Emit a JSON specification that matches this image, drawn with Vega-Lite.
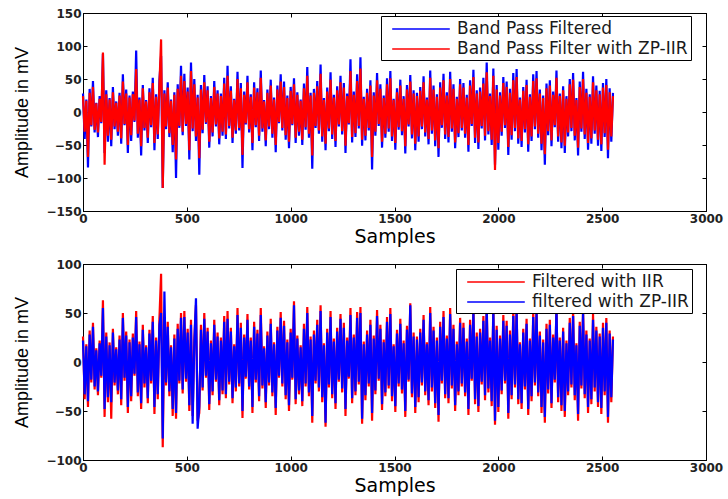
{
"$schema": "https://vega.github.io/schema/vega-lite/v6.json",
"padding": {"left": 13, "top": 6, "right": 5, "bottom": 0},
"background": "white",
"config": {
 "view": {"stroke": "black", "strokeWidth": 1},
 "axis": {"grid": false, "domainColor": "black", "domainWidth": 1, "tickColor": "black", "tickSize": -4, "tickWidth": 1, "labelFont": "DejaVu Sans", "labelFontWeight": "bold", "labelFontSize": 12, "labelColor": "#222222", "titleFont": "DejaVu Sans", "titleFontWeight": "normal", "titleFontSize": 19, "titleColor": "#000000", "labelFlush": false, "labelOverlap": false, "format": "d"},
 "axisY": {"titleFont": "Liberation Sans", "titleFontSize": 18}
},
"data": {"values": [
{"x":0,"a":28,"b":24,"c":26,"d":22},{"x":8,"a":-41,"b":-30,"c":-38,"d":-33},{"x":16,"a":19,"b":17,"c":18,"d":16},{"x":24,"a":-84,"b":-68,"c":-46,"d":-40},{"x":32,"a":35,"b":29,"c":32,"d":28},{"x":40,"a":-22,"b":-20,"c":-21,"d":-18},{"x":48,"a":47,"b":38,"c":40,"d":36},{"x":56,"a":-31,"b":-27,"c":-28,"d":-25},{"x":64,"a":14,"b":13,"c":14,"d":12},{"x":72,"a":-38,"b":-31,"c":-34,"d":-30},
{"x":80,"a":24,"b":20,"c":22,"d":19},{"x":88,"a":-17,"b":-15,"c":-16,"d":-14},{"x":96,"a":88,"b":90,"c":63,"d":55},{"x":104,"a":-62,"b":-80,"c":-56,"d":-48},{"x":112,"a":33,"b":27,"c":30,"d":26},{"x":120,"a":-45,"b":-36,"c":-41,"d":-36},{"x":128,"a":21,"b":19,"c":20,"d":17},{"x":136,"a":-52,"b":-42,"c":-58,"d":-41},{"x":144,"a":38,"b":30,"c":34,"d":30},{"x":152,"a":-26,"b":-22,"c":-24,"d":-21},
{"x":160,"a":16,"b":14,"c":15,"d":13},{"x":168,"a":-36,"b":-30,"c":-33,"d":-29},{"x":176,"a":29,"b":25,"c":27,"d":23},{"x":184,"a":-48,"b":-40,"c":-44,"d":-38},{"x":192,"a":57,"b":46,"c":50,"d":45},{"x":200,"a":-20,"b":-18,"c":-19,"d":-16},{"x":208,"a":34,"b":28,"c":31,"d":27},{"x":216,"a":-62,"b":-50,"c":-52,"d":-46},{"x":224,"a":25,"b":22,"c":23,"d":20},{"x":232,"a":-44,"b":-35,"c":-40,"d":-35},
{"x":240,"a":31,"b":27,"c":29,"d":25},{"x":248,"a":-15,"b":-13,"c":-14,"d":-12},{"x":256,"a":93,"b":65,"c":52,"d":46},{"x":264,"a":-39,"b":-33,"c":-35,"d":-31},{"x":272,"a":22,"b":19,"c":21,"d":18},{"x":280,"a":-66,"b":-52,"c":-48,"d":-42},{"x":288,"a":41,"b":36,"c":38,"d":33},{"x":296,"a":-28,"b":-24,"c":-26,"d":-22},{"x":304,"a":18,"b":16,"c":17,"d":15},{"x":312,"a":-47,"b":-39,"c":-42,"d":-37},
{"x":320,"a":36,"b":30,"c":33,"d":29},{"x":328,"a":-23,"b":-20,"c":-22,"d":-19},{"x":336,"a":52,"b":44,"c":47,"d":41},{"x":344,"a":-58,"b":-47,"c":-53,"d":-46},{"x":352,"a":27,"b":23,"c":25,"d":22},{"x":360,"a":-41,"b":-34,"c":-38,"d":-33},{"x":368,"a":48,"b":40,"c":44,"d":38},{"x":376,"a":85,"b":110,"c":90,"d":50},{"x":384,"a":-115,"b":-115,"c":-87,"d":-78},{"x":392,"a":33,"b":28,"c":40,"d":72},
{"x":400,"a":-26,"b":-22,"c":-24,"d":-21},{"x":408,"a":45,"b":37,"c":41,"d":36},{"x":416,"a":-38,"b":-32,"c":-35,"d":-30},{"x":424,"a":19,"b":17,"c":17,"d":15},{"x":432,"a":-61,"b":-50,"c":-55,"d":-48},{"x":440,"a":30,"b":26,"c":28,"d":24},{"x":448,"a":-100,"b":-72,"c":-58,"d":-52},{"x":456,"a":42,"b":35,"c":39,"d":34},{"x":464,"a":-24,"b":-21,"c":-22,"d":-19},{"x":472,"a":70,"b":55,"c":50,"d":45},
{"x":480,"a":-35,"b":-30,"c":-32,"d":-28},{"x":488,"a":58,"b":47,"c":52,"d":46},{"x":496,"a":-21,"b":-18,"c":-20,"d":-17},{"x":504,"a":37,"b":31,"c":34,"d":30},{"x":512,"a":-72,"b":-58,"c":-50,"d":-44},{"x":520,"a":75,"b":62,"c":43,"d":38},{"x":528,"a":-29,"b":-25,"c":-55,"d":-63},{"x":536,"a":50,"b":42,"c":23,"d":20},{"x":544,"a":-44,"b":-37,"c":58,"d":65},{"x":552,"a":26,"b":22,"c":-60,"d":-68},
{"x":560,"a":-95,"b":-70,"c":-52,"d":-45},{"x":568,"a":41,"b":34,"c":38,"d":33},{"x":576,"a":-32,"b":-27,"c":-29,"d":-26},{"x":584,"a":56,"b":45,"c":50,"d":44},{"x":592,"a":-18,"b":-16,"c":-16,"d":-14},{"x":600,"a":39,"b":33,"c":35,"d":31},{"x":608,"a":-54,"b":-45,"c":-49,"d":-43},{"x":616,"a":24,"b":21,"c":22,"d":19},{"x":624,"a":-37,"b":-31,"c":-34,"d":-30},{"x":632,"a":47,"b":38,"c":43,"d":38},
{"x":640,"a":-22,"b":-19,"c":-20,"d":-18},{"x":648,"a":33,"b":28,"c":30,"d":26},{"x":656,"a":-49,"b":-40,"c":-44,"d":-39},{"x":664,"a":28,"b":24,"c":25,"d":22},{"x":672,"a":-36,"b":-30,"c":-33,"d":-29},{"x":680,"a":52,"b":43,"c":47,"d":41},{"x":688,"a":-41,"b":-34,"c":-37,"d":-33},{"x":696,"a":70,"b":55,"c":52,"d":44},{"x":704,"a":-25,"b":-21,"c":-23,"d":-20},{"x":712,"a":39,"b":32,"c":35,"d":31},
{"x":720,"a":-47,"b":-39,"c":-42,"d":-37},{"x":728,"a":20,"b":18,"c":18,"d":16},{"x":736,"a":-33,"b":-28,"c":-30,"d":-26},{"x":744,"a":61,"b":50,"c":55,"d":48},{"x":752,"a":-28,"b":-24,"c":-25,"d":-22},{"x":760,"a":44,"b":36,"c":40,"d":35},{"x":768,"a":-85,"b":-65,"c":-57,"d":-50},{"x":776,"a":31,"b":26,"c":28,"d":25},{"x":784,"a":-19,"b":-17,"c":-17,"d":-15},{"x":792,"a":55,"b":45,"c":49,"d":43},
{"x":800,"a":-31,"b":-26,"c":-28,"d":-25},{"x":808,"a":27,"b":23,"c":25,"d":22},{"x":816,"a":-58,"b":-47,"c":-52,"d":-46},{"x":824,"a":45,"b":37,"c":41,"d":36},{"x":832,"a":-23,"b":-20,"c":-21,"d":-18},{"x":840,"a":36,"b":30,"c":33,"d":29},{"x":848,"a":-44,"b":-36,"c":-40,"d":-35},{"x":856,"a":63,"b":52,"c":55,"d":48},{"x":864,"a":-30,"b":-25,"c":-27,"d":-24},{"x":872,"a":18,"b":16,"c":16,"d":14},
{"x":880,"a":-52,"b":-43,"c":-47,"d":-41},{"x":888,"a":34,"b":29,"c":31,"d":27},{"x":896,"a":-26,"b":-22,"c":-24,"d":-21},{"x":904,"a":49,"b":40,"c":44,"d":39},{"x":912,"a":-39,"b":-33,"c":-35,"d":-31},{"x":920,"a":22,"b":19,"c":20,"d":18},{"x":928,"a":-61,"b":-50,"c":-54,"d":-47},{"x":936,"a":40,"b":34,"c":36,"d":32},{"x":944,"a":-17,"b":-15,"c":-16,"d":-14},{"x":952,"a":57,"b":46,"c":51,"d":45},
{"x":960,"a":-28,"b":-24,"c":-25,"d":-22},{"x":968,"a":46,"b":38,"c":42,"d":37},{"x":976,"a":-42,"b":-35,"c":-38,"d":-34},{"x":984,"a":25,"b":21,"c":23,"d":20},{"x":992,"a":-55,"b":-45,"c":-50,"d":-44},{"x":1000,"a":38,"b":32,"c":34,"d":30},{"x":1008,"a":-20,"b":-18,"c":-18,"d":-16},{"x":1016,"a":51,"b":42,"c":62,"d":58},{"x":1024,"a":-47,"b":-39,"c":-43,"d":-38},{"x":1032,"a":30,"b":26,"c":27,"d":24},
{"x":1040,"a":-36,"b":-30,"c":-33,"d":-29},{"x":1048,"a":19,"b":17,"c":17,"d":15},{"x":1056,"a":-50,"b":-42,"c":-45,"d":-40},{"x":1064,"a":43,"b":36,"c":39,"d":34},{"x":1072,"a":-27,"b":-23,"c":-25,"d":-22},{"x":1080,"a":68,"b":55,"c":56,"d":50},{"x":1088,"a":-39,"b":-33,"c":-35,"d":-31},{"x":1096,"a":29,"b":25,"c":26,"d":23},{"x":1104,"a":-86,"b":-66,"c":-62,"d":-55},{"x":1112,"a":35,"b":29,"c":32,"d":28},
{"x":1120,"a":-24,"b":-21,"c":-22,"d":-19},{"x":1128,"a":47,"b":39,"c":43,"d":38},{"x":1136,"a":-33,"b":-28,"c":-30,"d":-26},{"x":1144,"a":72,"b":58,"c":58,"d":52},{"x":1152,"a":-45,"b":-37,"c":-41,"d":-36},{"x":1160,"a":21,"b":18,"c":19,"d":17},{"x":1168,"a":-58,"b":-48,"c":-66,"d":-62},{"x":1176,"a":37,"b":31,"c":34,"d":30},{"x":1184,"a":-29,"b":-25,"c":-26,"d":-23},{"x":1192,"a":60,"b":49,"c":52,"d":46},
{"x":1200,"a":-41,"b":-34,"c":-37,"d":-33},{"x":1208,"a":26,"b":22,"c":24,"d":21},{"x":1216,"a":-53,"b":-44,"c":-48,"d":-42},{"x":1224,"a":39,"b":33,"c":35,"d":31},{"x":1232,"a":-22,"b":-19,"c":-20,"d":-18},{"x":1240,"a":55,"b":45,"c":49,"d":44},{"x":1248,"a":-34,"b":-29,"c":-31,"d":-27},{"x":1256,"a":44,"b":37,"c":40,"d":35},{"x":1264,"a":-62,"b":-51,"c":-55,"d":-48},{"x":1272,"a":28,"b":24,"c":25,"d":22},
{"x":1280,"a":-19,"b":-17,"c":-17,"d":-15},{"x":1288,"a":80,"b":62,"c":55,"d":48},{"x":1296,"a":-46,"b":-38,"c":-42,"d":-37},{"x":1304,"a":31,"b":26,"c":28,"d":25},{"x":1312,"a":-38,"b":-32,"c":-34,"d":-30},{"x":1320,"a":57,"b":47,"c":51,"d":45},{"x":1328,"a":-25,"b":-21,"c":-23,"d":-20},{"x":1336,"a":83,"b":66,"c":56,"d":50},{"x":1344,"a":-51,"b":-42,"c":-63,"d":-58},{"x":1352,"a":23,"b":20,"c":21,"d":18},
{"x":1360,"a":-43,"b":-36,"c":-39,"d":-34},{"x":1368,"a":35,"b":29,"c":32,"d":28},{"x":1376,"a":-28,"b":-24,"c":-25,"d":-22},{"x":1384,"a":48,"b":40,"c":43,"d":38},{"x":1392,"a":-87,"b":-68,"c":-60,"d":-52},{"x":1400,"a":30,"b":25,"c":27,"d":24},{"x":1408,"a":-36,"b":-30,"c":-33,"d":-29},{"x":1416,"a":59,"b":48,"c":53,"d":47},{"x":1424,"a":-21,"b":-18,"c":-19,"d":-17},{"x":1432,"a":42,"b":35,"c":38,"d":34},
{"x":1440,"a":-54,"b":-45,"c":-49,"d":-43},{"x":1448,"a":25,"b":21,"c":23,"d":20},{"x":1456,"a":-39,"b":-33,"c":-35,"d":-31},{"x":1464,"a":51,"b":42,"c":46,"d":41},{"x":1472,"a":-30,"b":-25,"c":-27,"d":-24},{"x":1480,"a":62,"b":51,"c":55,"d":49},{"x":1488,"a":-44,"b":-37,"c":-40,"d":-35},{"x":1496,"a":20,"b":18,"c":18,"d":16},{"x":1504,"a":-57,"b":-47,"c":-51,"d":-45},{"x":1512,"a":36,"b":30,"c":33,"d":29},
{"x":1520,"a":-27,"b":-23,"c":-25,"d":-22},{"x":1528,"a":49,"b":40,"c":44,"d":39},{"x":1536,"a":-35,"b":-29,"c":-32,"d":-28},{"x":1544,"a":24,"b":20,"c":22,"d":19},{"x":1552,"a":-63,"b":-52,"c":-56,"d":-50},{"x":1560,"a":41,"b":34,"c":37,"d":33},{"x":1568,"a":-22,"b":-19,"c":-20,"d":-18},{"x":1576,"a":56,"b":46,"c":60,"d":58},{"x":1584,"a":-40,"b":-34,"c":-36,"d":-32},{"x":1592,"a":33,"b":28,"c":30,"d":26},
{"x":1600,"a":-58,"b":-48,"c":-52,"d":-46},{"x":1608,"a":29,"b":24,"c":26,"d":23},{"x":1616,"a":-45,"b":-37,"c":-41,"d":-36},{"x":1624,"a":38,"b":32,"c":34,"d":30},{"x":1632,"a":-26,"b":-22,"c":-24,"d":-21},{"x":1640,"a":54,"b":45,"c":48,"d":43},{"x":1648,"a":-37,"b":-31,"c":-34,"d":-30},{"x":1656,"a":22,"b":19,"c":20,"d":18},{"x":1664,"a":-49,"b":-41,"c":-44,"d":-39},{"x":1672,"a":63,"b":52,"c":56,"d":50},
{"x":1680,"a":-33,"b":-28,"c":-30,"d":-26},{"x":1688,"a":40,"b":34,"c":36,"d":32},{"x":1696,"a":-52,"b":-43,"c":-47,"d":-42},{"x":1704,"a":27,"b":23,"c":25,"d":22},{"x":1712,"a":-68,"b":-55,"c":-61,"d":-54},{"x":1720,"a":45,"b":37,"c":41,"d":36},{"x":1728,"a":-24,"b":-20,"c":-22,"d":-19},{"x":1736,"a":58,"b":48,"c":52,"d":46},{"x":1744,"a":-41,"b":-34,"c":-37,"d":-33},{"x":1752,"a":30,"b":25,"c":27,"d":24},
{"x":1760,"a":-46,"b":-38,"c":-42,"d":-37},{"x":1768,"a":61,"b":50,"c":55,"d":49},{"x":1776,"a":-30,"b":-25,"c":-27,"d":-24},{"x":1784,"a":42,"b":35,"c":38,"d":34},{"x":1792,"a":-55,"b":-46,"c":-50,"d":-44},{"x":1800,"a":23,"b":20,"c":21,"d":18},{"x":1808,"a":-38,"b":-32,"c":-34,"d":-30},{"x":1816,"a":50,"b":42,"c":45,"d":40},{"x":1824,"a":-28,"b":-24,"c":-25,"d":-22},{"x":1832,"a":44,"b":37,"c":40,"d":35},
{"x":1840,"a":-39,"b":-33,"c":-35,"d":-31},{"x":1848,"a":26,"b":22,"c":24,"d":21},{"x":1856,"a":-60,"b":-50,"c":-54,"d":-48},{"x":1864,"a":48,"b":40,"c":43,"d":38},{"x":1872,"a":-21,"b":-18,"c":-19,"d":-17},{"x":1880,"a":64,"b":53,"c":57,"d":51},{"x":1888,"a":-47,"b":-39,"c":-43,"d":-38},{"x":1896,"a":33,"b":28,"c":30,"d":26},{"x":1904,"a":-56,"b":-46,"c":-51,"d":-45},{"x":1912,"a":37,"b":31,"c":34,"d":30},
{"x":1920,"a":-25,"b":-21,"c":-23,"d":-20},{"x":1928,"a":52,"b":43,"c":47,"d":42},{"x":1936,"a":-43,"b":-36,"c":-39,"d":-34},{"x":1944,"a":75,"b":60,"c":60,"d":55},{"x":1952,"a":-34,"b":-29,"c":-31,"d":-27},{"x":1960,"a":28,"b":24,"c":25,"d":22},{"x":1968,"a":-50,"b":-42,"c":-45,"d":-40},{"x":1976,"a":66,"b":55,"c":58,"d":53},{"x":1984,"a":-80,"b":-88,"c":-64,"d":-60},{"x":1992,"a":41,"b":34,"c":37,"d":33},
{"x":2000,"a":-57,"b":-47,"c":-51,"d":-46},{"x":2008,"a":30,"b":25,"c":27,"d":24},{"x":2016,"a":-36,"b":-30,"c":-33,"d":-29},{"x":2024,"a":53,"b":44,"c":48,"d":42},{"x":2032,"a":-24,"b":-20,"c":-22,"d":-19},{"x":2040,"a":46,"b":38,"c":42,"d":37},{"x":2048,"a":-65,"b":-53,"c":-58,"d":-52},{"x":2056,"a":35,"b":29,"c":32,"d":28},{"x":2064,"a":-42,"b":-35,"c":-38,"d":-34},{"x":2072,"a":59,"b":48,"c":53,"d":47},
{"x":2080,"a":-29,"b":-24,"c":-26,"d":-23},{"x":2088,"a":65,"b":53,"c":57,"d":52},{"x":2096,"a":-48,"b":-40,"c":-43,"d":-38},{"x":2104,"a":22,"b":19,"c":20,"d":18},{"x":2112,"a":-53,"b":-44,"c":-48,"d":-42},{"x":2120,"a":38,"b":32,"c":34,"d":30},{"x":2128,"a":-31,"b":-26,"c":-28,"d":-25},{"x":2136,"a":49,"b":41,"c":44,"d":39},{"x":2144,"a":-60,"b":-49,"c":-54,"d":-48},{"x":2152,"a":27,"b":23,"c":24,"d":22},
{"x":2160,"a":-44,"b":-37,"c":-40,"d":-35},{"x":2168,"a":57,"b":47,"c":51,"d":46},{"x":2176,"a":-26,"b":-22,"c":-24,"d":-21},{"x":2184,"a":62,"b":51,"c":55,"d":50},{"x":2192,"a":-39,"b":-33,"c":-35,"d":-31},{"x":2200,"a":34,"b":28,"c":31,"d":27},{"x":2208,"a":-58,"b":-48,"c":-52,"d":-46},{"x":2216,"a":25,"b":21,"c":23,"d":20},{"x":2224,"a":-80,"b":-64,"c":-62,"d":-56},{"x":2232,"a":43,"b":36,"c":39,"d":34},
{"x":2240,"a":-35,"b":-29,"c":-32,"d":-28},{"x":2248,"a":48,"b":40,"c":43,"d":38},{"x":2256,"a":-52,"b":-43,"c":-47,"d":-42},{"x":2264,"a":31,"b":26,"c":28,"d":25},{"x":2272,"a":-23,"b":-20,"c":-21,"d":-18},{"x":2280,"a":63,"b":52,"c":58,"d":55},{"x":2288,"a":-45,"b":-37,"c":-41,"d":-36},{"x":2296,"a":28,"b":24,"c":25,"d":22},{"x":2304,"a":-55,"b":-46,"c":-50,"d":-44},{"x":2312,"a":39,"b":33,"c":35,"d":31},
{"x":2320,"a":-62,"b":-51,"c":-56,"d":-50},{"x":2328,"a":24,"b":20,"c":22,"d":19},{"x":2336,"a":-37,"b":-31,"c":-34,"d":-30},{"x":2344,"a":50,"b":42,"c":45,"d":40},{"x":2352,"a":-29,"b":-24,"c":-26,"d":-23},{"x":2360,"a":59,"b":49,"c":53,"d":47},{"x":2368,"a":-43,"b":-36,"c":-39,"d":-34},{"x":2376,"a":21,"b":18,"c":19,"d":17},{"x":2384,"a":-66,"b":-54,"c":-60,"d":-53},{"x":2392,"a":46,"b":38,"c":41,"d":37},
{"x":2400,"a":-30,"b":-25,"c":-27,"d":-24},{"x":2408,"a":61,"b":50,"c":55,"d":49},{"x":2416,"a":-41,"b":-34,"c":-37,"d":-33},{"x":2424,"a":35,"b":29,"c":32,"d":28},{"x":2432,"a":-57,"b":-47,"c":-52,"d":-46},{"x":2440,"a":27,"b":23,"c":24,"d":22},{"x":2448,"a":-48,"b":-40,"c":-43,"d":-38},{"x":2456,"a":54,"b":45,"c":49,"d":43},{"x":2464,"a":-33,"b":-28,"c":-30,"d":-26},{"x":2472,"a":40,"b":33,"c":36,"d":32},
{"x":2480,"a":-51,"b":-42,"c":-46,"d":-41},{"x":2488,"a":32,"b":27,"c":29,"d":26},{"x":2496,"a":-59,"b":-49,"c":-53,"d":-47},{"x":2504,"a":44,"b":37,"c":40,"d":35},{"x":2512,"a":-38,"b":-32,"c":-34,"d":-30},{"x":2520,"a":50,"b":41,"c":45,"d":40},{"x":2528,"a":-70,"b":-57,"c":-62,"d":-56},{"x":2536,"a":36,"b":30,"c":32,"d":29},{"x":2544,"a":-45,"b":-37,"c":-41,"d":-36},{"x":2552,"a":29,"b":24,"c":26,"d":23}
]},
"resolve": {"scale": {"color": "independent"}, "legend": {"color": "independent"}},
"spacing": 10,
"vconcat": [
 {
  "width": 623, "height": 198,
  "resolve": {"axis": {"x": "independent", "y": "independent"}},
  "layer": [
   {"mark": {"type": "line", "strokeWidth": 2.2},
    "encoding": {
     "x": {"field": "x", "type": "quantitative", "scale": {"domain": [0, 3000], "nice": false, "zero": false}, "axis": {"orient": "bottom", "title": "Samples", "values": [0, 500, 1000, 1500, 2000, 2500, 3000], "labelPadding": 6, "titlePadding": 3}},
     "y": {"field": "a", "type": "quantitative", "scale": {"domain": [-150, 150], "nice": false}, "axis": {"orient": "left", "title": "Amplitude in mV", "values": [-150, -100, -50, 0, 50, 100, 150], "labelPadding": 6, "titlePadding": 14}},
     "color": {"datum": "Band Pass Filtered", "type": "nominal", "scale": {"domain": ["Band Pass Filtered", "Band Pass Filter with ZP-IIR"], "range": ["#0000ff", "#ff0000"]},
      "legend": {"orient": "none", "legendX": 298, "legendY": 3, "title": null, "strokeColor": "black", "fillColor": "white", "padding": 3, "rowPadding": 2, "cornerRadius": 0, "labelFont": "DejaVu Sans", "labelFontSize": 17, "labelColor": "#1a1a1a", "labelLimit": 400, "symbolType": "M-3.2,0H3.2", "symbolSize": 324, "symbolStrokeWidth": 1.3, "symbolOffset": 27, "labelOffset": 26}}
    }},
   {"mark": {"type": "line", "strokeWidth": 2.2},
    "encoding": {
     "x": {"field": "x", "type": "quantitative", "scale": {"domain": [0, 3000], "nice": false, "zero": false}, "axis": {"orient": "top", "title": null, "labels": false, "values": [0, 500, 1000, 1500, 2000, 2500, 3000]}},
     "y": {"field": "b", "type": "quantitative", "scale": {"domain": [-150, 150], "nice": false}, "axis": {"orient": "right", "title": null, "labels": false, "values": [-150, -100, -50, 0, 50, 100, 150]}},
     "color": {"datum": "Band Pass Filter with ZP-IIR", "type": "nominal"}
    }}
  ]
 },
 {
  "width": 623, "height": 196,
  "resolve": {"axis": {"x": "independent", "y": "independent"}},
  "layer": [
   {"mark": {"type": "line", "strokeWidth": 2.2},
    "encoding": {
     "x": {"field": "x", "type": "quantitative", "scale": {"domain": [0, 3000], "nice": false, "zero": false}, "axis": {"orient": "bottom", "title": "Samples", "values": [0, 500, 1000, 1500, 2000, 2500, 3000], "labelPadding": 6, "titlePadding": 3}},
     "y": {"field": "c", "type": "quantitative", "scale": {"domain": [-100, 100], "nice": false}, "axis": {"orient": "left", "title": "Amplitude in mV", "values": [-100, -50, 0, 50, 100], "labelPadding": 6, "titlePadding": 14}},
     "color": {"datum": "Filtered with IIR", "type": "nominal", "scale": {"domain": ["Filtered with IIR", "filtered with ZP-IIR"], "range": ["#ff0000", "#0000ff"]},
      "legend": {"orient": "none", "legendX": 373, "legendY": 5, "title": null, "strokeColor": "black", "fillColor": "white", "padding": 3, "rowPadding": 2, "cornerRadius": 0, "labelFont": "DejaVu Sans", "labelFontSize": 17, "labelColor": "#1a1a1a", "labelLimit": 400, "symbolType": "M-3.2,0H3.2", "symbolSize": 324, "symbolStrokeWidth": 1.3, "symbolOffset": 27, "labelOffset": 26}}
    }},
   {"mark": {"type": "line", "strokeWidth": 2.2},
    "encoding": {
     "x": {"field": "x", "type": "quantitative", "scale": {"domain": [0, 3000], "nice": false, "zero": false}, "axis": {"orient": "top", "title": null, "labels": false, "values": [0, 500, 1000, 1500, 2000, 2500, 3000]}},
     "y": {"field": "d", "type": "quantitative", "scale": {"domain": [-100, 100], "nice": false}, "axis": {"orient": "right", "title": null, "labels": false, "values": [-100, -50, 0, 50, 100]}},
     "color": {"datum": "filtered with ZP-IIR", "type": "nominal"}
    }}
  ]
 }
]
}
